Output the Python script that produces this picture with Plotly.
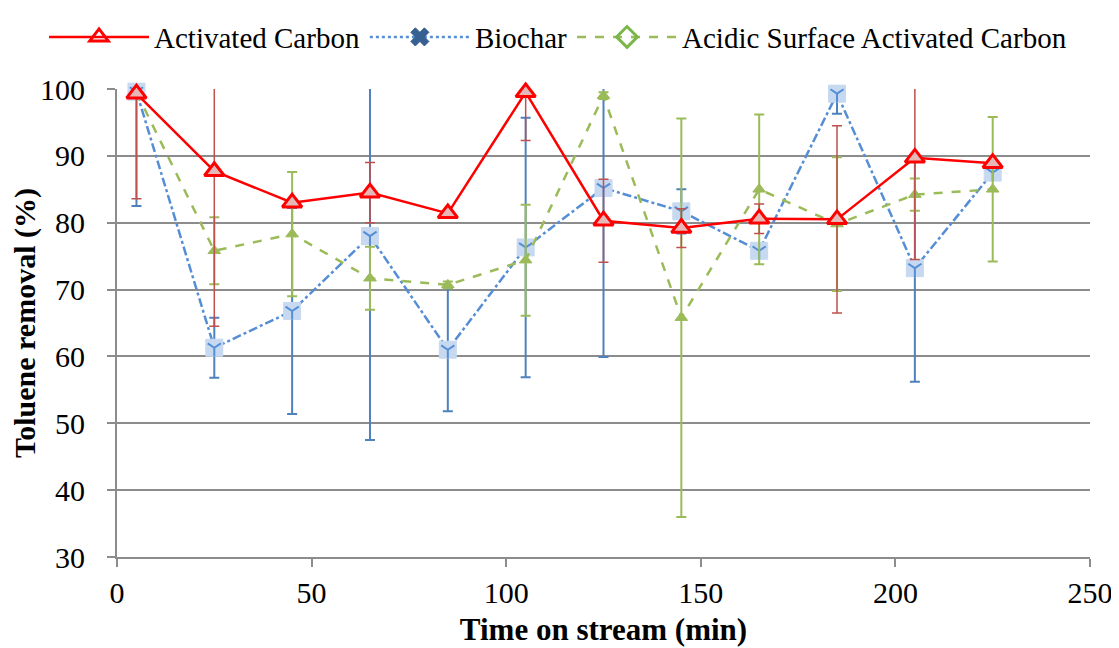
import plotly.graph_objects as go

time_min = [5, 25, 45, 65, 85, 105, 125, 145, 165, 185, 205, 225]

ac_vals = [99.3, 87.7, 83.0, 84.5, 81.4, 99.5, 80.3, 79.2, 80.6, 80.5, 89.7, 88.9]
ac_err = [15.7, 23.2, 0.5, 4.5, 0.5, 7.2, 6.2, 2.9, 2.2, 14.0, 15.2, 0.5]

bc_vals = [99.6, 61.3, 66.8, 78.0, 61.0, 76.3, 85.2, 81.7, 75.8, 99.3, 73.2, 87.5]
bc_err = [17.1, 4.5, 15.4, 30.5, 9.2, 19.4, 25.3, 3.3, 0.5, 3.0, 17.0, 0.5]

asac_vals = [99.5, 75.8, 78.3, 71.7, 70.7, 74.4, 99.0, 65.8, 85.0, 79.8, 84.2, 85.0]
asac_err = [0.5, 5.0, 9.3, 4.7, 0.5, 8.3, 0.5, 29.8, 11.2, 10.0, 2.4, 10.8]

series_names = ["Activated Carbon", "Biochar", "Acidic Surface Activated Carbon"]

x_ticks = [0, 50, 100, 150, 200, 250]
y_ticks = [30, 40, 50, 60, 70, 80, 90, 100]

FONT = "Liberation Serif, Times New Roman, serif"
GRID = "#8C8C8C"

fig = go.Figure()

# Biochar
fig.add_trace(go.Scatter(
    x=time_min, y=bc_vals, mode="lines+markers", showlegend=False,
    line=dict(color="#558ED5", width=2.5, dash="dashdot"),
    marker=dict(symbol="square", size=17, color="#C6D9F1",
                line=dict(color="#C6D9F1", width=1)),
    error_y=dict(type="data", array=bc_err, visible=True, color="#4F81BD",
                 thickness=2, width=5),
    cliponaxis=False,
))
fig.add_trace(go.Scatter(
    x=time_min, y=bc_vals, mode="markers", showlegend=False, hoverinfo="skip",
    marker=dict(symbol="y-down-open", size=11, color="#558ED5",
                line=dict(color="#558ED5", width=2)),
    cliponaxis=False,
))
# Acidic surface AC
fig.add_trace(go.Scatter(
    x=time_min, y=asac_vals, mode="lines+markers", showlegend=False,
    line=dict(color="#9BBB59", width=2.5, dash="dash"),
    marker=dict(symbol="triangle-up", size=11, color="#9BBB59",
                line=dict(color="#9BBB59", width=1)),
    error_y=dict(type="data", array=asac_err, visible=True, color="#9BBB59",
                 thickness=2, width=5),
    cliponaxis=False,
))
# Activated carbon
fig.add_trace(go.Scatter(
    x=time_min, y=ac_vals, mode="lines+markers", showlegend=False,
    line=dict(color="#FF0000", width=2.5),
    marker=dict(symbol="triangle-up", size=17, color="#E6B9B8",
                line=dict(color="#FF0000", width=3)),
    error_y=dict(type="data", array=ac_err, visible=True, color="#C0504D",
                 thickness=1.5, width=5),
    cliponaxis=False,
))

# legend entries
fig.add_trace(go.Scatter(
    x=[None], y=[None], mode="lines+markers", name=series_names[0],
    line=dict(color="#FF0000", width=2.5),
    marker=dict(symbol="triangle-up-open", size=20, color="#FF0000",
                line=dict(color="#FF0000", width=3)),
))
fig.add_trace(go.Scatter(
    x=[None], y=[None], mode="lines+markers", name=series_names[1],
    line=dict(color="#558ED5", width=2.5, dash="dot"),
    marker=dict(symbol="x", size=20, color="#376092",
                line=dict(color="#376092", width=1)),
))
fig.add_trace(go.Scatter(
    x=[None], y=[None], mode="lines+markers", name=series_names[2],
    line=dict(color="#9BBB59", width=2.5, dash="dash"),
    marker=dict(symbol="diamond-open", size=20, color="#7AB648",
                line=dict(color="#7AB648", width=3)),
))

fig.update_layout(
    width=1111, height=640,
    margin=dict(l=109, r=29, t=81, b=91, autoexpand=False),
    paper_bgcolor="white", plot_bgcolor="white",
    font=dict(family=FONT, size=30, color="black"),
    showlegend=True,
    legend=dict(orientation="h", x=-0.075, xanchor="left",
                y=1.111, yanchor="middle",
                font=dict(family=FONT, size=29), itemwidth=100,
                traceorder="normal", bgcolor="rgba(0,0,0,0)"),
    xaxis=dict(
        range=[0, 250], tickvals=x_ticks, ticktext=[str(v) for v in x_ticks],
        showgrid=False, zeroline=False, showline=True, linecolor=GRID, linewidth=2,
        ticks="outside", ticklen=8, tickwidth=2, tickcolor=GRID,
        tickfont=dict(family=FONT, size=30),
        title=dict(text="<b>Time on stream (min)</b>", font=dict(family=FONT, size=31),
                   standoff=10),
    ),
    yaxis=dict(
        range=[30, 100], tickvals=y_ticks, ticktext=[str(v) for v in y_ticks],
        showgrid=True, gridcolor=GRID, gridwidth=2,
        zeroline=False, showline=True, linecolor=GRID, linewidth=2,
        ticks="outside", ticklen=8, tickwidth=2, tickcolor=GRID,
        tickfont=dict(family=FONT, size=30), ticklabelstandoff=16,
        title=dict(text="<b>Toluene removal (%)</b>", font=dict(family=FONT, size=30),
                   standoff=4),
    ),
)

fig.write_html("out.html")
